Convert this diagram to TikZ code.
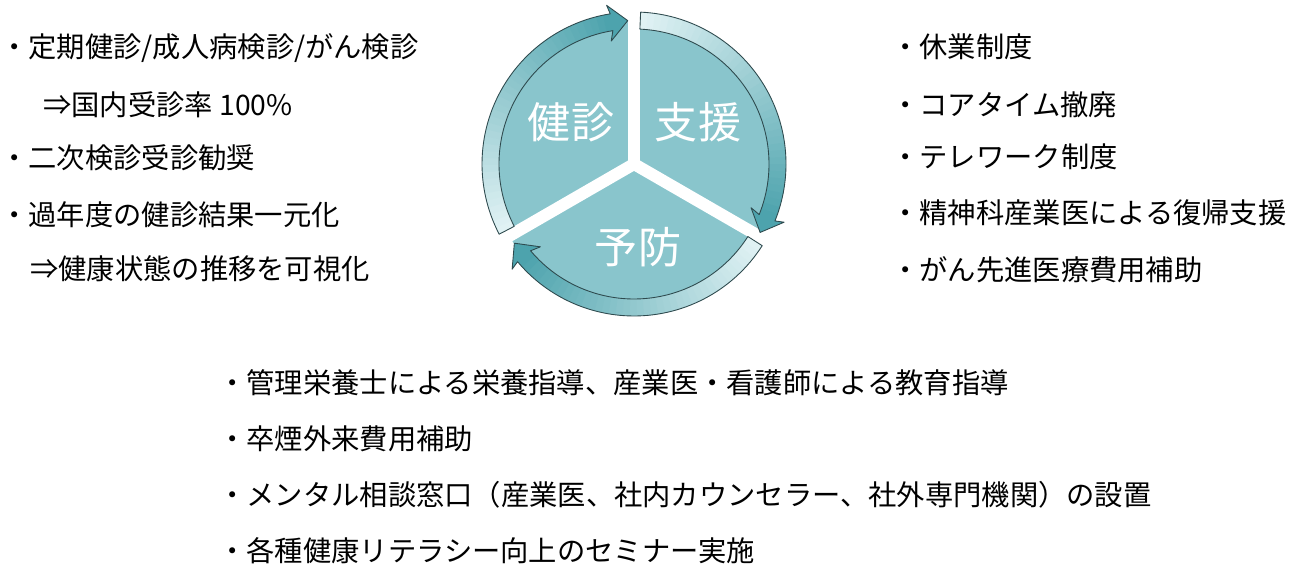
\documentclass[tikz,border=0pt]{standalone}
\usepackage{fontspec}
\setmainfont{Noto Sans CJK JP}
\usetikzlibrary{arrows.meta}

\definecolor{piefill}{HTML}{89C5CC}
\definecolor{ringlight}{HTML}{E0F2F4}
\definecolor{ringdark}{HTML}{4DA3AD}
\definecolor{ringedge}{HTML}{2E4A4E}

\begin{document}
\begin{tikzpicture}[
    x=0.02cm, y=0.02cm,
    item/.style={
        anchor=west,
        inner sep=0pt,
        text height=0.8em,
        text depth=0.2em,
        font=\fontsize{16.1pt}{20pt}\selectfont
    },
    pielabel/.style={
        text=white,
        inner sep=0pt,
        font=\fontsize{24.5pt}{30pt}\selectfont
    },
    gap/.style={white, line width=0.24cm},
    edge/.style={ringedge, line width=0.5pt, line join=round}
]
\useasboundingbox (0,0) rectangle (1300,587);

% cycle in the middle
\coordinate (c) at (634,423);
\fill[piefill] (c) circle (144);
\foreach \a in {90,210,330}
    \draw[gap] (c) -- ++(\a:150);

\begin{scope}[shift={(c)}]
\foreach \t/\p in {207.5/92.5, 87.5/-28.5, -32.5/-146.5} {
    \pgfmathsetmacro\hb{\p+6.5}
    % shaded body
    \foreach \i in {0,...,39} {
        \pgfmathsetmacro\aa{\t-(\t-\hb)*\i/40}
        \pgfmathsetmacro\ab{\t-(\t-\hb)*(\i+1)/40-0.4}
        \pgfmathtruncatemacro\pct{100*\i/39}
        \fill[ringdark!\pct!ringlight] (\aa:135) -- (\aa:152)
            arc[start angle=\aa, end angle=\ab, radius=152]
            -- (\ab:135) arc[start angle=\ab, end angle=\aa, radius=135] -- cycle;
    }
    % head
    \fill[ringdark] (\hb:152) -- (\hb+0.8:161) -- (\p:143.5) -- (\hb+1.5:125) -- (\hb:135) -- cycle;
    \draw[edge] (\t:152) arc[start angle=\t, end angle=\hb, radius=152]
        -- (\hb+0.8:161) -- (\p:143.5) -- (\hb+1.5:125) -- (\hb:135)
        arc[start angle=\hb, end angle=\t, radius=135] -- cycle;
}
\end{scope}

\node[pielabel] (kenshin) at (571,465) {健診};
\node[pielabel] (shien) at (698,465) {支援};
\node[pielabel] (yobou) at (638,340) {予防};

% left column
\node[item] (l1) at (0,535) {・定期健診/成人病検診/がん検診};
\node[item] (l2) at (43,477) {⇒国内受診率 100\%};
\node[item] (l3) at (0,424) {・二次検診受診勧奨};
\node[item] (l4) at (0,367) {・過年度の健診結果一元化};
\node[item] (l5) at (30,313) {⇒健康状態の推移を可視化};

% right column
\node[item] (r1) at (891,535) {・休業制度};
\node[item] (r2) at (891,477) {・コアタイム撤廃};
\node[item] (r3) at (891,425) {・テレワーク制度};
\node[item] (r4) at (891,369) {・精神科産業医による復帰支援};
\node[item] (r5) at (891,312) {・がん先進医療費用補助};

% bottom
\node[item] (b1) at (218,199) {・管理栄養士による栄養指導、産業医・看護師による教育指導};
\node[item] (b2) at (218,143) {・卒煙外来費用補助};
\node[item] (b3) at (218,87) {・メンタル相談窓口（産業医、社内カウンセラー、社外専門機関）の設置};
\node[item] (b4) at (218,31) {・各種健康リテラシー向上のセミナー実施};
\end{tikzpicture}
\end{document}
